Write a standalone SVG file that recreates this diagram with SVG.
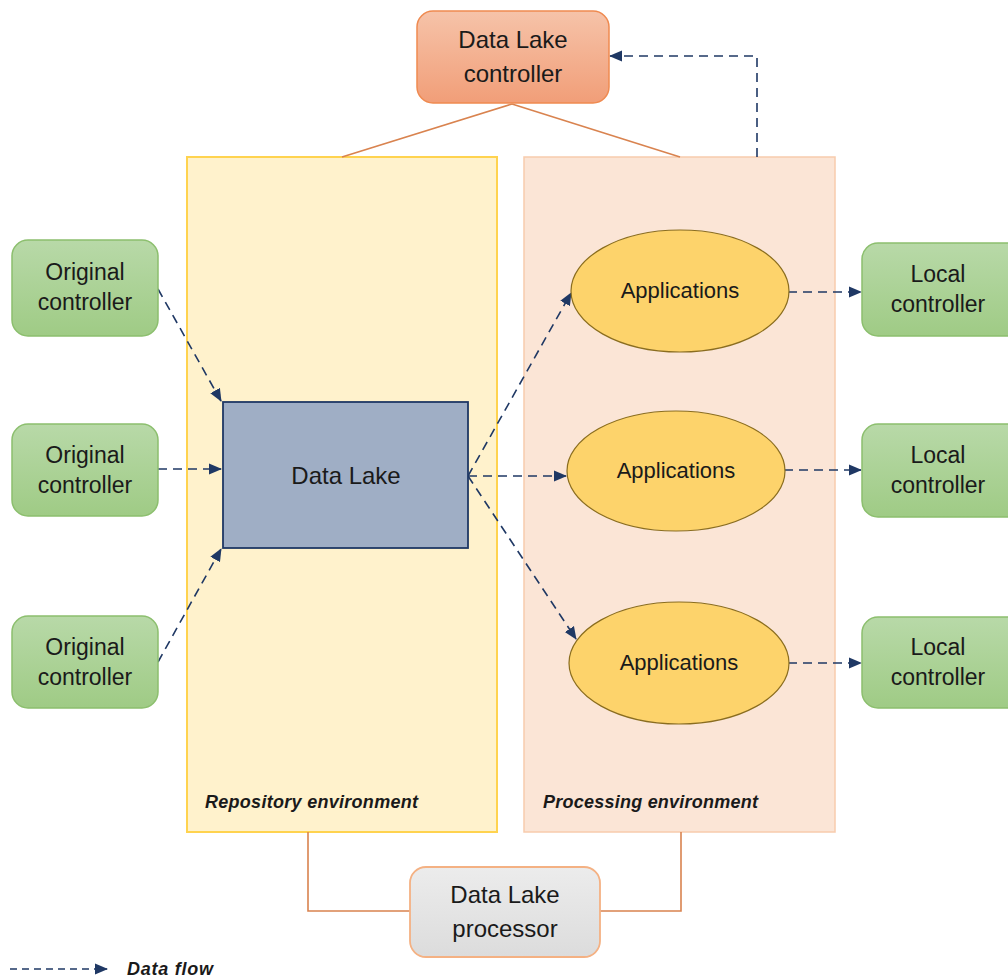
<svg xmlns="http://www.w3.org/2000/svg" width="1008" height="978" viewBox="0 0 1008 978">
<defs>
<linearGradient id="gGreen" x1="0" y1="0" x2="0" y2="1"><stop offset="0" stop-color="#b8d9a8"/><stop offset="1" stop-color="#9fcb85"/></linearGradient>
<linearGradient id="gOrange" x1="0" y1="0" x2="0" y2="1"><stop offset="0" stop-color="#f6c3a9"/><stop offset="1" stop-color="#f19e78"/></linearGradient>
<linearGradient id="gGray" x1="0" y1="0" x2="0" y2="1"><stop offset="0" stop-color="#ececec"/><stop offset="1" stop-color="#dcdcdc"/></linearGradient>
<marker id="arr" markerUnits="userSpaceOnUse" markerWidth="13" markerHeight="13" viewBox="0 0 13 13" refX="12" refY="6.5" orient="auto">
<path d="M0,1 L13,6.5 L0,12 Z" fill="#1f3864"/>
</marker>
<style>
.green{fill:url(#gGreen);stroke:#8cbf6e;stroke-width:1.5}
.app{fill:#fdd36b;stroke:#8a6d1f;stroke-width:1.2}
.t{font-family:"Liberation Sans",Arial,sans-serif;fill:#1a1a1a;text-anchor:middle}
.it{font-family:"Liberation Sans",Arial,sans-serif;font-style:italic;font-weight:bold;fill:#1a1a1a}
.flow{fill:none;stroke:#1f3864;stroke-width:1.6;stroke-dasharray:9,6;marker-end:url(#arr)}
.link{fill:none;stroke:#d9834f;stroke-width:1.6}
</style>
</defs>
<rect width="1008" height="978" fill="#ffffff"/>

<g id="repository-env">
<rect x="187" y="157" width="310" height="675" fill="#fff2cc" stroke="#ffd34f" stroke-width="2"/>
<text class="it" x="205" y="808" font-size="18" textLength="213">Repository environment</text>
</g>
<g id="processing-env">
<rect x="524" y="157" width="311" height="675" fill="#fbe5d6" stroke="#f8cbad" stroke-width="1.5"/>
<text class="it" x="543" y="808" font-size="18" textLength="215">Processing environment</text>
</g>

<g id="connectors">
<path class="link" d="M512,104 L342,157"/>
<path class="link" d="M512,104 L680,157"/>
<path class="link" d="M308,832 V911 H410"/>
<path class="link" d="M600,911 H681 V832"/>
<path class="flow" d="M757,157 V56 H610"/>
<path class="flow" d="M158,289 L221,401"/>
<path class="flow" d="M158,469 L221,469"/>
<path class="flow" d="M158,662 L221,549"/>
<path class="flow" d="M468,476 L571,293"/>
<path class="flow" d="M468,476 L566,476"/>
<path class="flow" d="M468,476 L576,639"/>
<path class="flow" d="M788,292 L861,292"/>
<path class="flow" d="M784,470 L861,470"/>
<path class="flow" d="M788,663 L861,663"/>
<path class="flow" d="M10,969 L107,969" style="stroke-dasharray:7,5"/>
</g>

<g id="data-lake-controller">
<rect x="417" y="11" width="192" height="92" rx="16" fill="url(#gOrange)" stroke="#ef8a50" stroke-width="1.5"/>
<text class="t" x="513" y="48" font-size="24">Data Lake</text>
<text class="t" x="513" y="82" font-size="24">controller</text>
</g>

<g id="original-controller-1">
<rect x="12" y="240" width="146" height="96" rx="16" class="green"/>
<text class="t" x="85" y="280" font-size="23">Original</text>
<text class="t" x="85" y="310" font-size="23">controller</text>
</g>
<g id="original-controller-2">
<rect x="12" y="424" width="146" height="92" rx="16" class="green"/>
<text class="t" x="85" y="463" font-size="23">Original</text>
<text class="t" x="85" y="493" font-size="23">controller</text>
</g>
<g id="original-controller-3">
<rect x="12" y="616" width="146" height="92" rx="16" class="green"/>
<text class="t" x="85" y="655" font-size="23">Original</text>
<text class="t" x="85" y="685" font-size="23">controller</text>
</g>

<g id="data-lake">
<rect x="223" y="402" width="245" height="146" fill="#9faec5" stroke="#1f3864" stroke-width="1.8"/>
<text class="t" x="346" y="484" font-size="24">Data Lake</text>
</g>

<g id="applications-1">
<ellipse cx="680" cy="291" rx="109" ry="61" class="app"/>
<text class="t" x="680" y="298" font-size="22">Applications</text>
</g>
<g id="applications-2">
<ellipse cx="676" cy="471" rx="109" ry="60" class="app"/>
<text class="t" x="676" y="478" font-size="22">Applications</text>
</g>
<g id="applications-3">
<ellipse cx="679" cy="663" rx="110" ry="61" class="app"/>
<text class="t" x="679" y="670" font-size="22">Applications</text>
</g>

<g id="local-controller-1">
<rect x="862" y="243" width="160" height="93" rx="16" class="green"/>
<text class="t" x="938" y="282" font-size="23">Local</text>
<text class="t" x="938" y="312" font-size="23">controller</text>
</g>
<g id="local-controller-2">
<rect x="862" y="424" width="160" height="93" rx="16" class="green"/>
<text class="t" x="938" y="463" font-size="23">Local</text>
<text class="t" x="938" y="493" font-size="23">controller</text>
</g>
<g id="local-controller-3">
<rect x="862" y="617" width="160" height="91" rx="16" class="green"/>
<text class="t" x="938" y="655" font-size="23">Local</text>
<text class="t" x="938" y="685" font-size="23">controller</text>
</g>

<g id="data-lake-processor">
<rect x="410" y="867" width="190" height="90" rx="16" fill="url(#gGray)" stroke="#f4b183" stroke-width="1.8"/>
<text class="t" x="505" y="903" font-size="24">Data Lake</text>
<text class="t" x="505" y="937" font-size="24">processor</text>
</g>

<g id="legend">
<text class="it" x="127" y="975" font-size="18" textLength="86">Data flow</text>
</g>
</svg>
